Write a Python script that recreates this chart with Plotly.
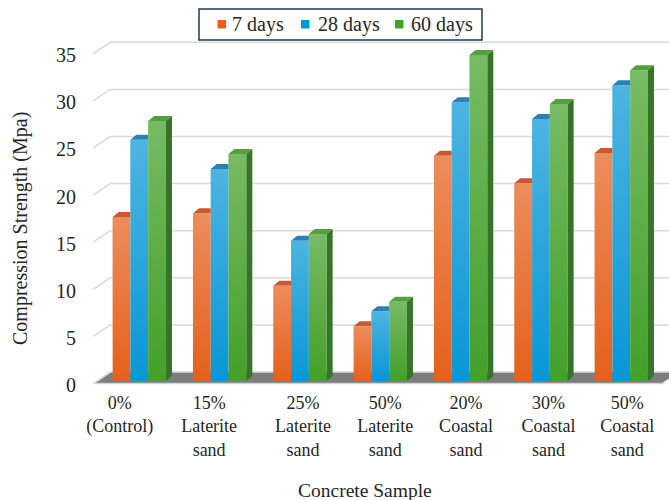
import plotly.graph_objects as go

# ---- data -------------------------------------------------------------
categories = [
    "0%<br>(Control)",
    "15%<br>Laterite<br>sand",
    "25%<br>Laterite<br>sand",
    "50%<br>Laterite<br>sand",
    "20%<br>Coastal<br>sand",
    "30%<br>Coastal<br>sand",
    "50%<br>Coastal<br>sand",
]
series_names = ["7 days", "28 days", "60 days"]
strength_7d = [17.4, 17.8, 10.1, 5.8, 23.9, 21.0, 24.2]
strength_28d = [25.6, 22.5, 14.9, 7.4, 29.6, 27.8, 31.4]
strength_60d = [27.6, 24.1, 15.6, 8.4, 34.6, 29.4, 33.0]
y_ticks = [0, 5, 10, 15, 20, 25, 30, 35]

# ---- styling ----------------------------------------------------------
FONT = "Liberation Serif"
TEXT = "#262626"
front_colors = ["#e5601c", "#0897d6", "#43a028"]
top_colors = ["#c65a30", "#2b80b6", "#559f40"]
side_colors = ["#b04d1c", "#1f6f9c", "#367527"]

W, H = 669, 500
M_L, M_R, M_T, M_B = 85, 0, 30, 108
X_RANGE = [-0.676, 6.594]
Y_RANGE = [-1.168, 37.26]
plot_w = W - M_L - M_R
plot_h = H - M_T - M_B
sx = plot_w / (X_RANGE[1] - X_RANGE[0])   # px per category unit
sy = plot_h / (Y_RANGE[1] - Y_RANGE[0])   # px per MPa


def dxu(px):
    return px / sx


def dyu(px):
    return px / sy


def paper_x(px):
    return (px - M_L) / plot_w


def paper_y(py):
    return (H - M_B - py) / plot_h


# pseudo-3D depth settings (pixels)
BAR_DX, BAR_DY = 6, 5
WALL_DX, WALL_DY = 17, 11.5
FRONT_DROP = 2.5
# perspective drift of the category labels (pixels)
LABEL_SHIFT = [-19.5, -10.5, 3, 5, 5.5, 7.5, 6]

BAR_W = 0.2213
series = [strength_7d, strength_28d, strength_60d]
offsets = [-1.5 * BAR_W + k * BAR_W for k in range(3)]
xs = list(range(len(categories)))

fig = go.Figure()

# front faces of the columns
for k, (name, vals) in enumerate(zip(series_names, series)):
    fig.add_trace(go.Bar(
        x=xs, y=vals, name=name, width=BAR_W, offset=offsets[k],
        marker=dict(color=front_colors[k], line=dict(width=0)),
        showlegend=False, hoverinfo="skip",
    ))

# top / side faces and a soft light gradient on each column
ddx, ddy = dxu(BAR_DX), dyu(BAR_DY)
for k, vals in enumerate(series):
    tx, ty, sxs, sys_ = [], [], [], []
    for i, v in enumerate(vals):
        x0 = i + offsets[k]
        x1 = x0 + BAR_W
        hidden = k + 1 < len(series) and series[k + 1][i] > v + ddy
        if hidden:
            tx += [x0, x1, x1, x0 + ddx, x0, None]
            ty += [v, v, v + ddy, v + ddy, v, None]
        else:
            tx += [x0, x1, x1 + ddx, x0 + ddx, x0, None]
            ty += [v, v, v + ddy, v + ddy, v, None]
            sxs += [x1, x1 + ddx, x1 + ddx, x1, x1, None]
            sys_ += [0, ddy, v + ddy, v, 0, None]
    fig.add_trace(go.Scatter(
        x=tx, y=ty, mode="lines", fill="toself", fillcolor=top_colors[k],
        line=dict(width=0, color="rgba(0,0,0,0)"), showlegend=False, hoverinfo="skip"))
    if sxs:
        fig.add_trace(go.Scatter(
            x=sxs, y=sys_, mode="lines", fill="toself", fillcolor=side_colors[k],
            line=dict(width=0, color="rgba(0,0,0,0)"), showlegend=False, hoverinfo="skip"))
    for i, v in enumerate(vals):
        x0 = i + offsets[k]
        x1 = x0 + BAR_W
        fig.add_trace(go.Scatter(
            x=[x0, x1, x1, x0, x0], y=[0, 0, v, v, 0], mode="lines", fill="toself",
            fillgradient=dict(type="vertical", colorscale=[
                [0, "rgba(255,255,255,0)"], [1, "rgba(255,255,255,0.28)"]]),
            line=dict(width=0, color="rgba(0,0,0,0)"), showlegend=False, hoverinfo="skip"))

shapes = []
# floor
f_y0 = -dyu(FRONT_DROP)
f_y1 = f_y0 + dyu(WALL_DY)
f_xl = -0.5 - dxu(4.5)
f_xr = len(categories) - 0.5
shapes.append(dict(
    type="path", layer="below", xref="x", yref="y",
    path=(f"M{f_xl},{f_y0} L{f_xr},{f_y0} L{f_xr + dxu(WALL_DX)},{f_y1} "
          f"L{f_xl + dxu(WALL_DX)},{f_y1} Z"),
    fillcolor="#7d7d7d", line=dict(width=0)))
shapes.append(dict(
    type="line", layer="below", xref="x", yref="y",
    x0=f_xl, x1=f_xr + dxu(3), y0=f_y0, y1=f_y0,
    line=dict(color="#d4d4d4", width=1.5)))

# back-wall gridlines with their slanted lead-ins
g_xl = -0.5 - dxu(6)
for v in y_ticks:
    yf = v - dyu(FRONT_DROP)
    yb = yf + dyu(WALL_DY)
    shapes.append(dict(
        type="path", layer="below", xref="x", yref="y",
        path=f"M{g_xl},{yf} L{g_xl + dxu(WALL_DX)},{yb} L{X_RANGE[1] + 1},{yb}",
        line=dict(color="#d9d9d9", width=1.5)))

# legend box with colour keys
shapes.append(dict(
    type="rect", xref="paper", yref="paper",
    x0=paper_x(199), x1=paper_x(482), y0=paper_y(40), y1=paper_y(9),
    line=dict(color="#1f3a4f", width=1.5), fillcolor="white", layer="above"))
key_x = [217.6, 301, 395]
text_x = [230, 316, 409]
annotations = []
for k, name in enumerate(series_names):
    shapes.append(dict(
        type="rect", xref="paper", yref="paper",
        x0=paper_x(key_x[k]), x1=paper_x(key_x[k] + 8.5),
        y0=paper_y(28.5), y1=paper_y(20), fillcolor=front_colors[k],
        line=dict(width=0), layer="above"))
    annotations.append(dict(
        xref="paper", yref="paper", x=paper_x(text_x[k]), y=paper_y(24.5),
        xanchor="left", yanchor="middle", text=name, showarrow=False,
        font=dict(family=FONT, size=20, color=TEXT)))

# axis titles
annotations.append(dict(
    xref="paper", yref="paper", x=paper_x(365), y=paper_y(490),
    xanchor="center", yanchor="middle", text="Concrete Sample", showarrow=False,
    font=dict(family=FONT, size=19.5, color=TEXT)))
annotations.append(dict(
    xref="paper", yref="paper", x=paper_x(20), y=paper_y(229),
    xanchor="center", yanchor="middle", text="Compression Strength (Mpa)",
    textangle=-90, showarrow=False, font=dict(family=FONT, size=20, color=TEXT)))

fig.update_layout(
    width=W, height=H,
    margin=dict(l=M_L, r=M_R, t=M_T, b=M_B, pad=0),
    paper_bgcolor="white", plot_bgcolor="white",
    barmode="group", bargap=0.336, bargroupgap=0,
    shapes=shapes, annotations=annotations,
    showlegend=False,
    font=dict(family=FONT, color=TEXT),
)
fig.update_xaxes(
    range=X_RANGE, tickmode="array",
    tickvals=[i + dxu(s) for i, s in zip(xs, LABEL_SHIFT)], ticktext=categories,
    showgrid=False, zeroline=False, showline=False, ticks="",
    tickfont=dict(family=FONT, size=18, color=TEXT), ticklabelstandoff=-2,
)
fig.update_yaxes(
    range=Y_RANGE, tickmode="array", tickvals=y_ticks,
    showgrid=False, zeroline=False, showline=False, ticks="",
    tickfont=dict(family=FONT, size=20, color=TEXT),
    ticklabelshift=4, ticklabelstandoff=8,
)

fig.write_html("out.html")
